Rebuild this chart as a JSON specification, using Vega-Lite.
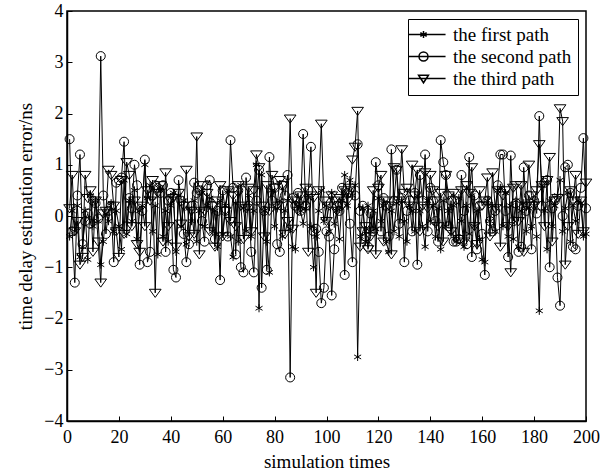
{
"$schema": "https://vega.github.io/schema/vega-lite/v6.json",
"width": 519, "height": 410,
"autosize": "none",
"padding": {"left": 67, "top": 11, "right": 25, "bottom": 52},
"background": "white",
"config": {"view": {"stroke": "black", "strokeWidth": 1.5}, "font": "Liberation Serif"},
"data": {"values": [
{"x":1,"p1":-0.4,"p2":1.5,"p3":0.15},{"x":2,"p1":0.1,"p2":-0.3,"p3":0.8},{"x":3,"p1":-0.3,"p2":-1.3,"p3":-0.3},{"x":4,"p1":0.2,"p2":0.4,"p3":-0.1},{"x":5,"p1":-0.8,"p2":1.2,"p3":-0.95},
{"x":6,"p1":-0.6,"p2":-0.55,"p3":-0.8},{"x":7,"p1":0.1,"p2":-0.1,"p3":0.8},{"x":8,"p1":-0.85,"p2":0.05,"p3":0.35},{"x":9,"p1":0.4,"p2":-0.15,"p3":0.5},{"x":10,"p1":-0.2,"p2":0.3,"p3":-0.7},
{"x":11,"p1":0.3,"p2":0.25,"p3":0.3},{"x":12,"p1":-0.1,"p2":-0.05,"p3":-0.5},{"x":13,"p1":-0.95,"p2":3.12,"p3":-1.3},{"x":14,"p1":-0.5,"p2":0.4,"p3":0.05},{"x":15,"p1":0.05,"p2":-0.35,"p3":0.1},
{"x":16,"p1":-0.1,"p2":0.1,"p3":0.9},{"x":17,"p1":0.25,"p2":0.2,"p3":0.8},{"x":18,"p1":-0.3,"p2":-0.9,"p3":0.2},{"x":19,"p1":0.1,"p2":0.65,"p3":-0.3},{"x":20,"p1":-0.2,"p2":0.7,"p3":-0.8},
{"x":21,"p1":-0.65,"p2":0.75,"p3":0.7},{"x":22,"p1":0.7,"p2":1.45,"p3":-0.35},{"x":23,"p1":-0.35,"p2":-0.2,"p3":1.05},{"x":24,"p1":0.3,"p2":0.35,"p3":0.8},{"x":25,"p1":-0.1,"p2":0.15,"p3":-0.2},
{"x":26,"p1":0.5,"p2":1.0,"p3":0.3},{"x":27,"p1":-0.45,"p2":0.6,"p3":-0.55},{"x":28,"p1":0.1,"p2":-0.95,"p3":-0.7},{"x":29,"p1":0.2,"p2":0.1,"p3":0.2},{"x":30,"p1":1.0,"p2":1.1,"p3":-0.2},
{"x":31,"p1":0.35,"p2":-0.9,"p3":0.5},{"x":32,"p1":0.6,"p2":-0.7,"p3":0.3},{"x":33,"p1":-0.3,"p2":0.4,"p3":0.7},{"x":34,"p1":0.2,"p2":0.6,"p3":-1.5},{"x":35,"p1":-0.75,"p2":0.55,"p3":0.45},
{"x":36,"p1":0.5,"p2":0.45,"p3":0.6},{"x":37,"p1":-0.4,"p2":0.6,"p3":-0.5},{"x":38,"p1":0.1,"p2":-0.7,"p3":0.85},{"x":39,"p1":-0.5,"p2":0.3,"p3":-0.2},{"x":40,"p1":0.2,"p2":0.45,"p3":0.3},
{"x":41,"p1":0.45,"p2":-1.05,"p3":0.35},{"x":42,"p1":-0.7,"p2":-1.2,"p3":-0.6},{"x":43,"p1":0.4,"p2":0.7,"p3":0.45},{"x":44,"p1":-0.2,"p2":0.3,"p3":-0.15},{"x":45,"p1":0.3,"p2":-0.35,"p3":0.2},
{"x":46,"p1":-0.55,"p2":-0.9,"p3":0.9},{"x":47,"p1":0.15,"p2":-0.55,"p3":-0.4},{"x":48,"p1":-0.1,"p2":0.2,"p3":0.1},{"x":49,"p1":0.3,"p2":0.65,"p3":-0.35},{"x":50,"p1":-0.5,"p2":0.45,"p3":1.55},
{"x":51,"p1":0.1,"p2":0.5,"p3":-0.75},{"x":52,"p1":0.45,"p2":-0.1,"p3":0.6},{"x":53,"p1":-0.2,"p2":-0.5,"p3":0.1},{"x":54,"p1":0.2,"p2":0.6,"p3":0.45},{"x":55,"p1":0.35,"p2":0.7,"p3":-0.3},
{"x":56,"p1":-0.3,"p2":0.2,"p3":0.2},{"x":57,"p1":0.1,"p2":-0.45,"p3":-0.6},{"x":58,"p1":-0.6,"p2":0.1,"p3":0.3},{"x":59,"p1":0.3,"p2":-1.25,"p3":0.6},{"x":60,"p1":-0.35,"p2":0.5,"p3":-0.4},
{"x":61,"p1":0.2,"p2":0.1,"p3":0.1},{"x":62,"p1":0.5,"p2":-0.4,"p3":0.5},{"x":63,"p1":-0.4,"p2":1.48,"p3":-0.1},{"x":64,"p1":-0.8,"p2":0.55,"p3":0.4},{"x":65,"p1":0.25,"p2":-0.75,"p3":-0.2},
{"x":66,"p1":-0.5,"p2":0.5,"p3":0.6},{"x":67,"p1":0.6,"p2":-1.0,"p3":0.2},{"x":68,"p1":0.15,"p2":-1.1,"p3":-0.45},{"x":69,"p1":-0.3,"p2":0.75,"p3":0.15},{"x":70,"p1":0.4,"p2":0.2,"p3":0.55},
{"x":71,"p1":-0.4,"p2":-0.7,"p3":-0.3},{"x":72,"p1":0.1,"p2":-1.1,"p3":0.5},{"x":73,"p1":1.0,"p2":0.3,"p3":1.2},{"x":74,"p1":-1.8,"p2":0.9,"p3":0.95},{"x":75,"p1":0.8,"p2":-1.4,"p3":0.2},
{"x":76,"p1":0.1,"p2":0.1,"p3":-0.4},{"x":77,"p1":-0.5,"p2":-1.05,"p3":0.6},{"x":78,"p1":-1.1,"p2":1.15,"p3":0.1},{"x":79,"p1":0.5,"p2":0.3,"p3":0.8},{"x":80,"p1":-0.2,"p2":0.55,"p3":0.55},
{"x":81,"p1":0.15,"p2":-0.55,"p3":0.2},{"x":82,"p1":0.3,"p2":-0.7,"p3":0.7},{"x":83,"p1":-0.4,"p2":0.6,"p3":0.6},{"x":84,"p1":0.1,"p2":0.4,"p3":-0.35},{"x":85,"p1":0.3,"p2":0.8,"p3":-0.1},
{"x":86,"p1":-0.25,"p2":-3.15,"p3":1.9},{"x":87,"p1":-0.6,"p2":0.35,"p3":-0.25},{"x":88,"p1":-0.65,"p2":0.2,"p3":0.3},{"x":89,"p1":0.2,"p2":0.45,"p3":0.1},{"x":90,"p1":0.1,"p2":0.1,"p3":0.4},
{"x":91,"p1":-0.15,"p2":1.6,"p3":0.2},{"x":92,"p1":0.15,"p2":0.2,"p3":0.55},{"x":93,"p1":0.4,"p2":0.5,"p3":-0.7},{"x":94,"p1":-0.2,"p2":1.35,"p3":0.4},{"x":95,"p1":-1.0,"p2":-0.3,"p3":0.35},
{"x":96,"p1":-0.4,"p2":-0.25,"p3":-1.5},{"x":97,"p1":0.1,"p2":-0.7,"p3":0.5},{"x":98,"p1":0.5,"p2":-1.7,"p3":1.8},{"x":99,"p1":-0.1,"p2":-1.4,"p3":0.3},{"x":100,"p1":0.2,"p2":-0.3,"p3":-0.1},
{"x":101,"p1":-0.3,"p2":-0.4,"p3":0.2},{"x":102,"p1":0.45,"p2":-1.55,"p3":0.4},{"x":103,"p1":-0.15,"p2":-0.65,"p3":0.3},{"x":104,"p1":0.1,"p2":0.2,"p3":0.1},{"x":105,"p1":-0.45,"p2":0.1,"p3":0.35},
{"x":106,"p1":0.3,"p2":0.55,"p3":0.2},{"x":107,"p1":0.8,"p2":-1.15,"p3":0.5},{"x":108,"p1":0.2,"p2":0.45,"p3":0.3},{"x":109,"p1":0.7,"p2":-0.15,"p3":0.55},{"x":110,"p1":0.4,"p2":-0.9,"p3":1.1},
{"x":111,"p1":0.6,"p2":0.4,"p3":1.35},{"x":112,"p1":-2.75,"p2":1.4,"p3":2.05},{"x":113,"p1":-0.4,"p2":0.1,"p3":-0.6},{"x":114,"p1":0.15,"p2":0.2,"p3":-0.3},{"x":115,"p1":-0.5,"p2":-0.4,"p3":-0.2},
{"x":116,"p1":0.2,"p2":-0.6,"p3":-0.65},{"x":117,"p1":-0.3,"p2":0.05,"p3":-0.4},{"x":118,"p1":0.1,"p2":-0.3,"p3":0.5},{"x":119,"p1":-0.25,"p2":1.05,"p3":-0.75},{"x":120,"p1":0.35,"p2":0.6,"p3":0.55},
{"x":121,"p1":-0.1,"p2":-0.3,"p3":0.8},{"x":122,"p1":0.2,"p2":0.35,"p3":-0.5},{"x":123,"p1":-0.5,"p2":0.2,"p3":0.3},{"x":124,"p1":-0.7,"p2":-0.4,"p3":0.2},{"x":125,"p1":0.1,"p2":1.3,"p3":-0.75},
{"x":126,"p1":-0.3,"p2":0.3,"p3":0.95},{"x":127,"p1":0.25,"p2":0.9,"p3":0.9},{"x":128,"p1":-0.4,"p2":-0.15,"p3":0.3},{"x":129,"p1":0.3,"p2":0.35,"p3":1.3},{"x":130,"p1":-0.1,"p2":-0.9,"p3":0.45},
{"x":131,"p1":-0.5,"p2":0.1,"p3":0.55},{"x":132,"p1":0.2,"p2":0.3,"p3":0.2},{"x":133,"p1":0.1,"p2":-0.3,"p3":1.0},{"x":134,"p1":-0.3,"p2":0.45,"p3":0.4},{"x":135,"p1":0.4,"p2":-0.95,"p3":0.9},
{"x":136,"p1":0.1,"p2":0.8,"p3":-0.3},{"x":137,"p1":-0.2,"p2":0.3,"p3":0.2},{"x":138,"p1":-0.6,"p2":1.2,"p3":0.85},{"x":139,"p1":0.3,"p2":-0.3,"p3":0.15},{"x":140,"p1":-0.1,"p2":0.55,"p3":0.8},
{"x":141,"p1":0.2,"p2":0.3,"p3":0.5},{"x":142,"p1":-0.4,"p2":-0.1,"p3":0.3},{"x":143,"p1":0.15,"p2":-0.5,"p3":-0.2},{"x":144,"p1":-0.65,"p2":1.48,"p3":0.45},{"x":145,"p1":0.3,"p2":1.05,"p3":-0.5},
{"x":146,"p1":-0.2,"p2":0.8,"p3":0.8},{"x":147,"p1":0.1,"p2":-0.2,"p3":0.4},{"x":148,"p1":-0.35,"p2":0.3,"p3":-0.3},{"x":149,"p1":0.2,"p2":-0.5,"p3":0.45},{"x":150,"p1":-0.5,"p2":-0.5,"p3":0.3},
{"x":151,"p1":0.35,"p2":-0.45,"p3":-0.45},{"x":152,"p1":-0.1,"p2":0.8,"p3":0.5},{"x":153,"p1":-0.6,"p2":0.1,"p3":-0.5},{"x":154,"p1":0.2,"p2":-0.55,"p3":0.6},{"x":155,"p1":-0.35,"p2":1.15,"p3":0.45},
{"x":156,"p1":0.4,"p2":-0.8,"p3":0.95},{"x":157,"p1":-0.2,"p2":0.4,"p3":-0.2},{"x":158,"p1":0.1,"p2":-0.65,"p3":-0.55},{"x":159,"p1":-0.45,"p2":0.2,"p3":0.5},{"x":160,"p1":-0.85,"p2":-0.35,"p3":0.2},
{"x":161,"p1":-0.9,"p2":-1.15,"p3":0.3},{"x":162,"p1":0.3,"p2":0.3,"p3":0.75},{"x":163,"p1":-0.1,"p2":-0.1,"p3":-0.4},{"x":164,"p1":0.2,"p2":-0.3,"p3":0.85},{"x":165,"p1":-0.3,"p2":0.1,"p3":0.15},
{"x":166,"p1":0.5,"p2":0.6,"p3":0.5},{"x":167,"p1":0.55,"p2":1.2,"p3":-0.6},{"x":168,"p1":-0.2,"p2":1.2,"p3":0.4},{"x":169,"p1":0.45,"p2":0.1,"p3":0.5},{"x":170,"p1":-0.4,"p2":-0.8,"p3":-0.2},
{"x":171,"p1":0.2,"p2":1.18,"p3":-1.1},{"x":172,"p1":-0.45,"p2":-0.1,"p3":0.55},{"x":173,"p1":0.3,"p2":0.25,"p3":0.6},{"x":174,"p1":-0.6,"p2":-0.7,"p3":-0.1},{"x":175,"p1":0.1,"p2":-0.6,"p3":0.6},
{"x":176,"p1":0.25,"p2":0.95,"p3":-0.7},{"x":177,"p1":-0.3,"p2":0.1,"p3":0.2},{"x":178,"p1":0.15,"p2":0.4,"p3":1.0},{"x":179,"p1":-0.2,"p2":-0.65,"p3":0.4},{"x":180,"p1":0.3,"p2":0.3,"p3":0.2},
{"x":181,"p1":-0.4,"p2":0.05,"p3":0.5},{"x":182,"p1":-1.85,"p2":1.95,"p3":1.4},{"x":183,"p1":0.6,"p2":0.2,"p3":0.6},{"x":184,"p1":0.1,"p2":0.65,"p3":-0.2},{"x":185,"p1":-0.65,"p2":0.7,"p3":0.7},
{"x":186,"p1":0.3,"p2":-1.0,"p3":1.15},{"x":187,"p1":-0.2,"p2":0.15,"p3":-0.5},{"x":188,"p1":0.2,"p2":0.3,"p3":0.3},{"x":189,"p1":0.4,"p2":-1.2,"p3":0.35},{"x":190,"p1":0.7,"p2":-1.75,"p3":2.1},
{"x":191,"p1":-0.3,"p2":0.0,"p3":1.85},{"x":192,"p1":0.15,"p2":0.95,"p3":-0.95},{"x":193,"p1":0.45,"p2":1.0,"p3":-0.2},{"x":194,"p1":-0.5,"p2":0.45,"p3":0.5},{"x":195,"p1":0.2,"p2":-0.6,"p3":0.3},
{"x":196,"p1":-0.1,"p2":-0.65,"p3":0.8},{"x":197,"p1":0.3,"p2":0.2,"p3":-0.35},{"x":198,"p1":0.25,"p2":0.55,"p3":0.3},{"x":199,"p1":-0.4,"p2":1.52,"p3":-0.3},{"x":200,"p1":-0.35,"p2":0.15,"p3":0.65}
]},
"transform": [{"fold": ["p1", "p2", "p3"], "as": ["key", "y"]}],
"encoding": {
  "x": {"field": "x", "type": "quantitative",
    "scale": {"domain": [0, 200], "nice": false, "zero": false},
    "axis": {"values": [0,20,40,60,80,100,120,140,160,180,200], "title": "simulation times", "grid": false,
      "tickSize": -5, "tickWidth": 1, "labelPadding": 12, "titlePadding": 6,
      "tickColor": "black", "domainColor": "black", "domainWidth": 1.5,
      "labelColor": "black", "labelFont": "Liberation Serif", "labelFontSize": 18, "labelFlush": false, "labelOverlap": false,
      "titleFont": "Liberation Serif", "titleFontSize": 19, "titleFontWeight": "normal", "titleColor": "black"}},
  "y": {"field": "y", "type": "quantitative",
    "scale": {"domain": [-4, 4], "nice": false, "zero": false},
    "axis": {"values": [-4,-3,-2,-1,0,1,2,3,4], "title": "time delay estimation error/ns", "grid": false,
      "tickSize": -5, "tickWidth": 1, "labelPadding": 9, "titlePadding": 8,
      "tickColor": "black", "domainColor": "black", "domainWidth": 1.5,
      "labelColor": "black", "labelFont": "Liberation Serif", "labelFontSize": 18, "labelFlush": false, "labelOverlap": false,
      "titleFont": "Liberation Serif", "titleFontSize": 19, "titleFontWeight": "normal", "titleColor": "black"}}
},
"layer": [
  {"mark": {"type": "line", "color": "black", "strokeWidth": 1},
   "encoding": {"detail": {"field": "key", "type": "nominal"}}},
  {"mark": {"type": "point", "filled": false, "color": "black", "size": 81, "strokeWidth": 1, "opacity": 1},
   "encoding": {
     "shape": {"field": "key", "type": "nominal", "legend": null,
       "scale": {"domain": ["p1", "p2", "p3"], "range": ["M0,-0.9L0,0.9M-0.78,-0.45L0.78,0.45M-0.78,0.45L0.78,-0.45", "circle", "M-1.3,-0.8L1.3,-0.8L0,1.0Z"]}}
   }},
  {"transform": [{"filter": "false"}],
   "mark": {"type": "point", "filled": false, "color": "black", "size": 81, "strokeWidth": 1, "opacity": 1},
   "encoding": {
     "shape": {"field": "key", "type": "nominal",
       "scale": {"domain": ["p1", "p2", "p3"], "range": ["M-5.6,0L-5.6,0M-3.33,0L4.9,0M0,-0.8L0,0.8M-0.7,-0.4L0.7,0.4M-0.7,0.4L0.7,-0.4", "M-5.6,0L-5.6,0M-3.33,0L4.9,0M-1,0A1,1,0,1,1,1,0A1,1,0,1,1,-1,0Z", "M-5.6,0L-5.6,0M-3.33,0L4.9,0M-1.1,-0.75L1.1,-0.75L0,0.95Z"]},
       "legend": {"orient": "top-right", "title": null, "offset": 8, "padding": 6,
         "symbolSize": 81, "labelOffset": 20,
         "labelExpr": "datum.value == 'p1' ? 'the first path' : datum.value == 'p2' ? 'the second path' : 'the third path'",
         "labelFont": "Liberation Serif", "labelFontSize": 19, "labelColor": "black",
         "strokeColor": "black", "fillColor": "white"}}
   }}
],
"resolve": {"scale": {"shape": "independent"}}
}
